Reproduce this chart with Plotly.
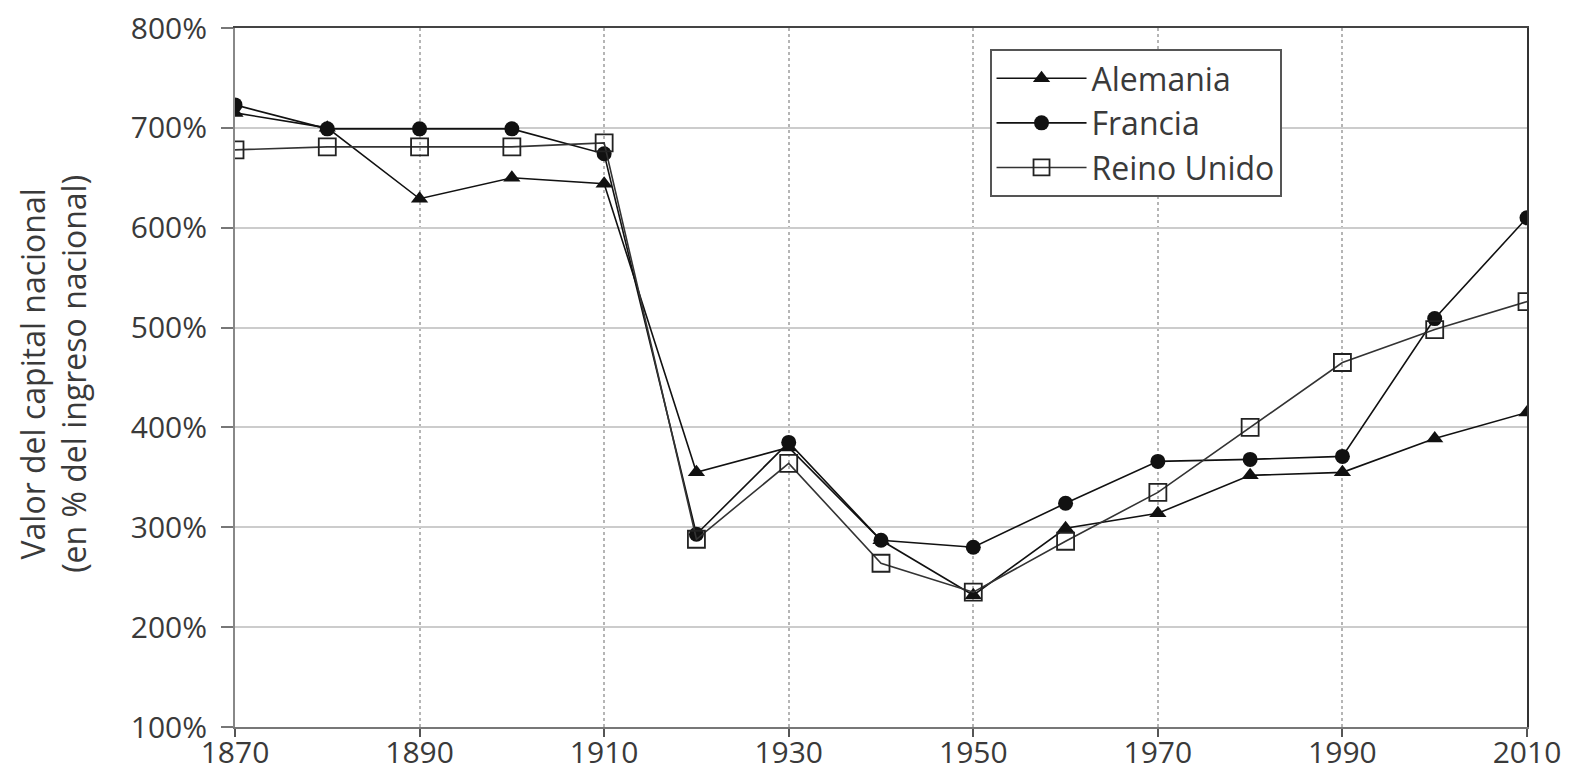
import plotly.graph_objects as go

# Años y valores del capital nacional (% del ingreso nacional)
years = [1870, 1880, 1890, 1900, 1910, 1920, 1930, 1940, 1950, 1960, 1970, 1980, 1990, 2000, 2010]
alemania = [715, 700, 629, 650, 644, 355, 380, 287, 232, 299, 314, 352, 355, 389, 415]
francia = [723, 699, 699, 699, 674, 293, 385, 287, 280, 324, 366, 368, 371, 509, 610]
reino_unido = [678, 681, 681, 681, 685, 288, 364, 264, 235, 286, 335, 400, 465, 498, 526]

font_family = "Open Sans, Noto Sans, sans-serif"
text_color = "#3a3a3a"

fig = go.Figure()

fig.add_trace(go.Scatter(
    x=years, y=alemania, name="Alemania", mode="lines+markers",
    line=dict(color="#111111", width=1.6),
    marker=dict(symbol="triangle-up", size=15, color="#111111"),
))
fig.add_trace(go.Scatter(
    x=years, y=francia, name="Francia", mode="lines+markers",
    line=dict(color="#111111", width=1.6),
    marker=dict(symbol="circle", size=15, color="#111111"),
))
fig.add_trace(go.Scatter(
    x=years, y=reino_unido, name="Reino Unido", mode="lines+markers",
    line=dict(color="#333333", width=1.6),
    marker=dict(symbol="square-open", size=17, color="#222222", line=dict(width=1.8)),
))

# ejes auxiliares: marco superior y derecho más oscuro
fig.add_trace(go.Scatter(x=[years[0]], y=[alemania[0]], xaxis="x2", yaxis="y2",
                         showlegend=False, hoverinfo="skip",
                         mode="markers", marker=dict(opacity=0)))

# la página tiene 8 px de margen en el body: se compensa aquí
fig.update_layout(
    width=1569, height=782,
    paper_bgcolor="white", plot_bgcolor="white",
    margin=dict(l=227, r=50, t=20, b=63),
    font=dict(family=font_family, size=30, color=text_color),
    showlegend=True,
    xaxis=dict(
        range=[1870, 2010], tick0=1870, dtick=20,
        showgrid=True, gridcolor="#b5b5b5", griddash="dot", gridwidth=1.5,
        showline=True, linecolor="#777777", linewidth=2,
        ticks="outside", ticklen=8, tickcolor="#555555", tickwidth=1.5,
        tickfont=dict(size=30, color=text_color), ticklabelstandoff=-10,
        ticklabeloverflow="allow",
        zeroline=False, automargin=False,
    ),
    yaxis=dict(
        range=[100, 800], dtick=100, ticksuffix="%",
        showgrid=True, gridcolor="#cccccc", gridwidth=2,
        showline=True, linecolor="#888888", linewidth=2,
        ticks="outside", ticklen=12, tickcolor="#777777", tickwidth=1.5,
        tickfont=dict(size=30, color=text_color), ticklabelstandoff=8,
        ticklabeloverflow="allow",
        zeroline=False, automargin=False,
    ),
    xaxis2=dict(
        range=[1870, 2010], overlaying="x", side="top",
        showline=True, linecolor="#444444", linewidth=2,
        showticklabels=False, showgrid=False, ticks="", zeroline=False,
        automargin=False,
    ),
    yaxis2=dict(
        range=[100, 800], overlaying="y", side="right",
        showline=True, linecolor="#333333", linewidth=2,
        showticklabels=False, showgrid=False, ticks="", zeroline=False,
        automargin=False,
    ),
    legend=dict(
        x=0.584, y=0.97, xanchor="left", yanchor="top",
        bgcolor="white", bordercolor="#555555", borderwidth=2,
        font=dict(size=32, color=text_color),
        itemwidth=90, tracegroupgap=0,
    ),
    annotations=[
        dict(
            text="Valor del capital nacional<br>(en % del ingreso nacional)",
            xref="paper", yref="paper", x=-0.141, y=0.505,
            xanchor="center", yanchor="middle", textangle=-90,
            showarrow=False, font=dict(size=32, color=text_color),
        )
    ],
)

fig.write_html("out.html")
